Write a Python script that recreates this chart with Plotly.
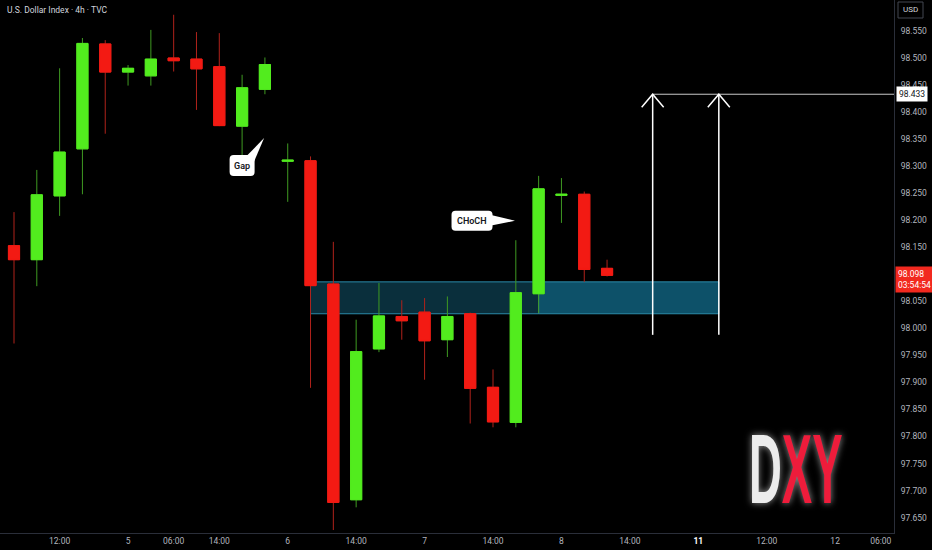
import plotly.graph_objects as go

# ---------------- data ----------------
title_text = "U.S. Dollar Index · 4h · TVC"
candle_idx = list(range(27))
opens  = [98.153, 98.127, 98.245, 98.332, 98.526, 98.474, 98.467, 98.500, 98.498, 98.484,
          98.374, 98.442, 98.309, 98.310, 98.082, 97.683, 97.962, 98.022, 98.030, 97.979,
          98.027, 97.891, 97.826, 98.064, 98.246, 98.248, 98.111]
highs  = [98.215, 98.293, 98.481, 98.537, 98.533, 98.487, 98.552, 98.580, 98.548, 98.546,
          98.469, 98.501, 98.342, 98.318, 98.160, 98.016, 98.084, 98.052, 98.056, 98.059,
          98.029, 97.924, 98.163, 98.282, 98.278, 98.253, 98.127]
lows   = [97.972, 98.078, 98.208, 98.248, 98.360, 98.449, 98.449, 98.475, 98.404, 98.374,
          98.305, 98.433, 98.234, 97.890, 97.627, 97.669, 97.956, 97.979, 97.905, 97.947,
          97.824, 97.817, 97.817, 98.028, 98.195, 98.086, 98.096]
closes = [98.127, 98.247, 98.326, 98.527, 98.474, 98.481, 98.498, 98.495, 98.480, 98.375,
          98.445, 98.488, 98.311, 98.079, 97.678, 97.957, 98.023, 98.014, 97.977, 98.022,
          97.889, 97.827, 98.066, 98.258, 98.248, 98.109, 98.098]

x_tickvals = [2, 5, 7, 9, 12, 15, 18, 21, 24, 27, 30, 33, 36, 38]
x_ticktext = ["12:00", "5", "06:00", "14:00", "6", "14:00", "7", "14:00", "8", "14:00",
              "<span style='color:#ffffff'><b>11</b></span>", "12:00", "12", "06:00"]
y_tickvals = [97.65, 97.70, 97.75, 97.80, 97.85, 97.90, 97.95, 98.00, 98.05,
              98.15, 98.20, 98.25, 98.30, 98.35, 98.40, 98.45, 98.50, 98.55]

zone_x = [13, 23, 30.9]          # start, split, end (bar index)
zone_y = [98.027, 98.086]        # bottom, top
arrow_x = [28, 30.9]
arrow_base = 97.988
target_price = 98.433
last_price = 98.098
last_countdown = "03:54:54"

gap_label = ("Gap", 10.0, 98.301)
choch_label = ("CHoCH", 20.08, 98.199)

# ---------------- layout geometry ----------------
W, H = 932, 550
ml, mr, mt, mb = 0, 38, 0, 17
pw, ph = W - ml - mr, H - mt - mb
x_range = [-0.614, 38.58]
y_range = [97.6215, 98.6073]
sx = (x_range[1] - x_range[0]) / pw   # index per px
sy = (y_range[1] - y_range[0]) / ph   # price per px

GREEN = "#52ec1e"
RED = "#f31a13"

fig = go.Figure()

# wicks
fig.add_trace(go.Candlestick(
    x=candle_idx, open=opens, high=highs, low=lows, close=closes,
    increasing=dict(line=dict(color="#3f9a22", width=1), fillcolor="#3f9a22"),
    decreasing=dict(line=dict(color="#b0221b", width=1), fillcolor="#b0221b"),
    hoverinfo="skip", showlegend=False))
# bodies
body_hi = [max(o, c) for o, c in zip(opens, closes)]
body_lo = [min(o, c) for o, c in zip(opens, closes)]
fig.add_trace(go.Candlestick(
    x=candle_idx, open=opens, high=body_hi, low=body_lo, close=closes,
    increasing=dict(line=dict(color=GREEN, width=1), fillcolor=GREEN),
    decreasing=dict(line=dict(color=RED, width=1), fillcolor=RED),
    hoverinfo="skip", showlegend=False))

shapes = []
# zone
shapes.append(dict(type="rect", xref="x", yref="y", x0=zone_x[0], x1=zone_x[1],
                   y0=zone_y[0], y1=zone_y[1], fillcolor="#0a2f3c",
                   line=dict(color="#2b8aa8", width=1), layer="below"))
shapes.append(dict(type="rect", xref="x", yref="y", x0=zone_x[1], x1=zone_x[2],
                   y0=zone_y[0], y1=zone_y[1], fillcolor="#0d5169",
                   line=dict(color="#2b8aa8", width=1), layer="below"))

# target line
shapes.append(dict(type="line", xref="x", yref="y", x0=arrow_x[0], x1=x_range[1],
                   y0=target_price, y1=target_price,
                   line=dict(color="#c8c8c8", width=1)))
# arrows
for ax in arrow_x:
    shapes.append(dict(type="line", xref="x", yref="y", x0=ax, x1=ax,
                       y0=arrow_base, y1=target_price,
                       line=dict(color="#ffffff", width=1.5)))
    hx, hy = 11 * sx, 13 * sy
    shapes.append(dict(type="path", xref="x", yref="y",
                       path=f"M{ax-hx},{target_price-hy} L{ax},{target_price} L{ax+hx},{target_price-hy}",
                       line=dict(color="#ffffff", width=1.5)))


def rrect(cx, cy, wpx, hpx, rpx):
    w, h = wpx * sx / 2, hpx * sy / 2
    rx, ry = rpx * sx, rpx * sy
    x0, x1, y0, y1 = cx - w, cx + w, cy - h, cy + h
    return (f"M{x0+rx},{y0} L{x1-rx},{y0} Q{x1},{y0} {x1},{y0+ry} L{x1},{y1-ry} "
            f"Q{x1},{y1} {x1-rx},{y1} L{x0+rx},{y1} Q{x0},{y1} {x0},{y1-ry} "
            f"L{x0},{y0+ry} Q{x0},{y0} {x0+rx},{y0} Z")


def wedge(cx, cy, pts):
    p = [(cx + dx * sx, cy - dy * sy) for dx, dy in pts]
    return f"M{p[0][0]},{p[0][1]} L{p[1][0]},{p[1][1]} L{p[2][0]},{p[2][1]} Z"


# Gap callout
_, gx, gy = gap_label
shapes.append(dict(type="path", xref="x", yref="y", path=rrect(gx, gy, 25, 21, 4),
                   fillcolor="#ffffff", line=dict(width=0)))
shapes.append(dict(type="path", xref="x", yref="y",
                   path=wedge(gx, gy, [(4, -9), (12, -4), (22, -27.5)]),
                   fillcolor="#ffffff", line=dict(width=0)))
# CHoCH callout
_, cxp, cyp = choch_label
shapes.append(dict(type="path", xref="x", yref="y", path=rrect(cxp, cyp, 41, 20, 4),
                   fillcolor="#ffffff", line=dict(width=0)))
shapes.append(dict(type="path", xref="x", yref="y",
                   path=wedge(cxp, cyp, [(18, -6), (18, 5), (43, 0)]),
                   fillcolor="#ffffff", line=dict(width=0)))

# USD box outline (paper-relative, right axis area)
shapes.append(dict(type="rect", xref="paper", yref="paper",
                   x0=1 + 4 / pw, x1=1 + 29 / pw, y0=1 - 18 / ph, y1=1 - 2 / ph,
                   fillcolor="#000000", line=dict(color="#434651", width=1)))

annotations = []
annotations.append(dict(text=title_text, xref="paper", yref="paper", x=0, y=1,
                        xanchor="left", yanchor="top", xshift=5, yshift=-3, showarrow=False,
                        font=dict(family="Roboto", size=8.5, color="#d1d4dc")))
for lab, lx, ly in (gap_label, choch_label):
    annotations.append(dict(text=lab, xref="x", yref="y", x=lx, y=ly, showarrow=False,
                            font=dict(family="Roboto", size=9, color="#131722", weight=600)))
# USD text
annotations.append(dict(text="USD", xref="paper", yref="paper", x=1 + 16.5 / pw, y=1 - 10 / ph,
                        xanchor="center", yanchor="middle", showarrow=False,
                        font=dict(family="Roboto", size=8, color="#d1d4dc")))
# price labels
annotations.append(dict(text=f"{target_price:.3f}", xref="paper", yref="y", x=1, y=target_price,
                        xanchor="left", yanchor="middle", xshift=2, showarrow=False,
                        bgcolor="#ffffff", borderpad=2,
                        font=dict(family="Roboto", size=8.5, color="#131722")))
annotations.append(dict(text=f"{last_price:.3f}<br>{last_countdown}", xref="paper", yref="y",
                        x=1, y=last_price - 0.008, xanchor="left", yanchor="middle", xshift=1,
                        showarrow=False, bgcolor="#f2291f", borderpad=2, align="left",
                        font=dict(family="Roboto", size=8.5, color="#ffffff")))
# logo
annotations.append(dict(text="<span style='color:#ececec'>D</span><span style='color:#ee1c3b'>XY</span>",
                        xref="paper", yref="paper", x=796 / pw, y=1 - 469 / ph,
                        xanchor="center", yanchor="middle", showarrow=False,
                        font=dict(family="Liberation Sans", size=99, color="#ee1c3b", weight="bold",
                                  shadow="0px 0px 8px rgba(210,210,210,0.7)")))

fig.update_layout(
    width=W, height=H, margin=dict(l=ml, r=mr, t=mt, b=mb),
    paper_bgcolor="#000000", plot_bgcolor="#000000",
    shapes=shapes, annotations=annotations, showlegend=False,
    xaxis=dict(range=x_range, tickvals=x_tickvals, ticktext=x_ticktext, showgrid=False,
               zeroline=False, showline=True, linecolor="#2a2e39", linewidth=1,
               rangeslider=dict(visible=False), ticks="",
               tickfont=dict(family="Roboto", size=8.5, color="#b2b5be"), fixedrange=True),
    yaxis=dict(range=y_range, side="right", tickvals=y_tickvals, tickformat=".3f",
               showgrid=False, zeroline=False, showline=True, linecolor="#2a2e39", linewidth=1,
               ticks="", ticklabelstandoff=4,
               tickfont=dict(family="Roboto", size=8.5, color="#b2b5be"), fixedrange=True),
)

post = """
document.body.style.margin = '0';
document.body.style.background = '#000000';
document.body.style.overflow = 'hidden';
var gd = document.getElementById('{plot_id}');
gd.querySelectorAll('.annotation-text').forEach(function(t){
  if (t.textContent === 'DXY') {
    var b = t.getBBox(); var cx = b.x + b.width/2;
    t.setAttribute('transform', 'translate(' + cx + ',0) scale(0.46,1) translate(' + (-cx) + ',0)');
  }
});
"""
fig.write_html("out.html", post_script=post, config={"displayModeBar": False})
